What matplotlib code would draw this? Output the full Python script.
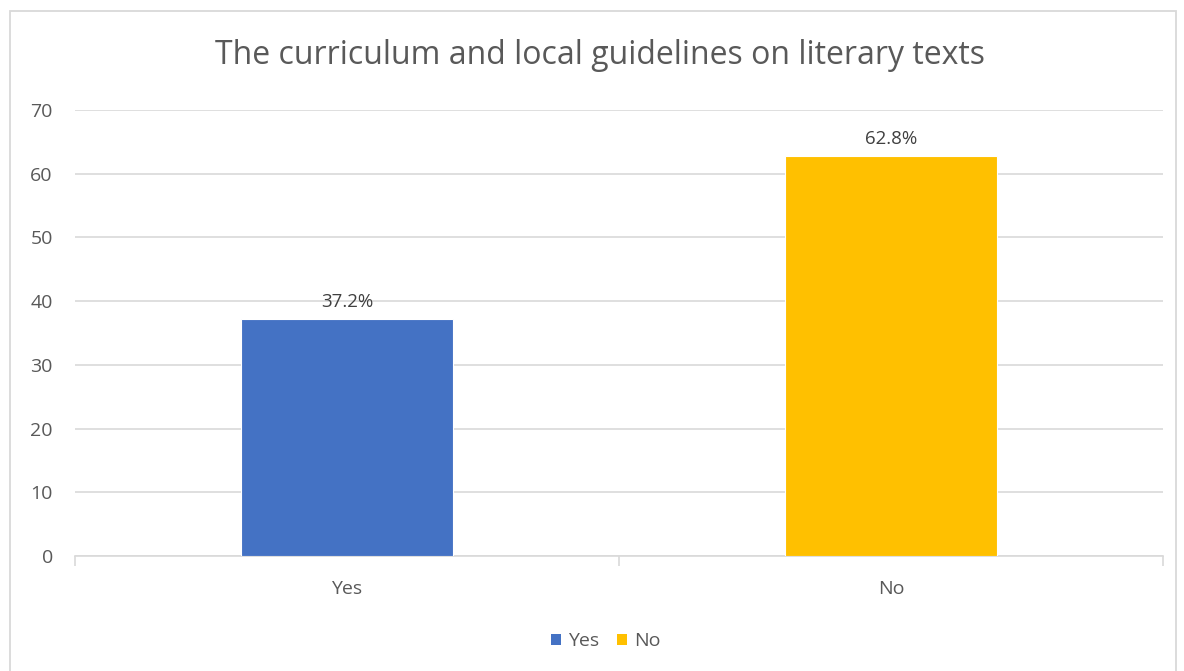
import matplotlib
matplotlib.use("Agg")
import matplotlib.pyplot as plt
from matplotlib.patches import Rectangle, Patch

categories = ["Yes", "No"]
values = [37.2, 62.8]
value_labels = ["37.2%", "62.8%"]
colors = ["#4472C4", "#FFC000"]
y_ticks = [0, 10, 20, 30, 40, 50, 60, 70]
title = "The curriculum and local guidelines on literary texts"

plt.rcParams["font.family"] = ["Open Sans", "DejaVu Sans"]

W, H = 1184, 671
fig = plt.figure(figsize=(W / 100, H / 100), dpi=100)
fig.patch.set_facecolor("white")

# chart border
fig.patches.append(Rectangle((10 / W, -0.05), (1176 - 10) / W, 1.05 - 11 / H,
                             transform=fig.transFigure, fill=False,
                             edgecolor="#D9D9D9", linewidth=1.3))

ax = fig.add_axes([75 / W, (H - 556) / H, (1163 - 75) / W, (556 - 110) / H])
x = list(range(len(categories)))
bars = ax.bar(x, values, width=0.39, color=colors, edgecolor="white",
              linewidth=0.8, zorder=3)

for xi, v, lab in zip(x, values, value_labels):
    ax.annotate(lab, (xi, v), xytext=(0, 6), textcoords="offset points",
                ha="center", va="bottom", fontsize=13.5, color="#404040")

ax.set_xlim(-0.5, len(categories) - 0.5)
ax.set_ylim(0, 70)
ax.set_yticks(y_ticks)
ax.yaxis.grid(True, color="#D9D9D9", linewidth=1.2, zorder=0)
ax.set_axisbelow(True)

ax.set_xticks(x)
ax.set_xticklabels(categories)
ax.set_xticks([-0.5, 0.5, 1.5], minor=True)
ax.tick_params(axis="x", which="major", length=0, pad=17, labelsize=14,
               labelcolor="#595959")
ax.tick_params(axis="x", which="minor", length=7, width=1.2, color="#D9D9D9")
ax.tick_params(axis="y", length=0, pad=16, labelsize=14, labelcolor="#595959")

for s in ["top", "right", "left"]:
    ax.spines[s].set_visible(False)
ax.spines["bottom"].set_color("#D9D9D9")
ax.spines["bottom"].set_linewidth(1.2)

fig.text(600 / W, 1 - 55 / H, title, ha="center", va="center",
         fontsize=23, color="#595959")

handles = [Patch(facecolor=c, edgecolor="none") for c in colors]
fig.legend(handles, categories, loc="center", bbox_to_anchor=(606 / W, 1 - 641 / H),
           ncol=2, frameon=False, fontsize=14, labelcolor="#595959",
           handlelength=0.5, handleheight=0.5, handletextpad=0.4,
           columnspacing=0.9)

fig.savefig("out.png", dpi=100, facecolor="white")
